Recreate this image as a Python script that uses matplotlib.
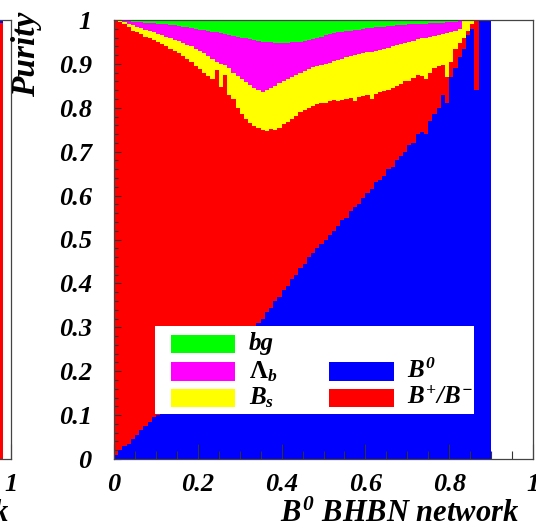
import numpy as np
import matplotlib
matplotlib.use("Agg")
import matplotlib.pyplot as plt
from matplotlib.patches import Rectangle

# purity vs. B0 BHBN network output, 0.01 wide bins from 0 to 0.9
# cumulative purity levels, stacked from the bottom: B0, B+/B-, Bs, Lambda_b (bg fills up to 1)
b0_top = [0.01, 0.02, 0.03, 0.035, 0.045, 0.055, 0.065, 0.075, 0.085, 0.095,
          0.10, 0.11, 0.12, 0.125, 0.135, 0.145, 0.15, 0.16, 0.17, 0.175,
          0.185, 0.19, 0.20, 0.21, 0.22, 0.225, 0.235, 0.24, 0.25, 0.26,
          0.265, 0.275, 0.285, 0.30, 0.31, 0.32, 0.335, 0.345, 0.36, 0.37,
          0.385, 0.395, 0.41, 0.42, 0.435, 0.445, 0.46, 0.47, 0.48, 0.49,
          0.50, 0.51, 0.52, 0.53, 0.545, 0.55, 0.565, 0.575, 0.58, 0.595,
          0.605, 0.615, 0.63, 0.635, 0.645, 0.66, 0.665, 0.68, 0.69, 0.70,
          0.715, 0.72, 0.74, 0.745, 0.74, 0.77, 0.785, 0.80, 0.83, 0.81,
          0.87, 0.89, 0.915, 0.935, 0.965, 0.98, 0.84, 1.0, 1.0, 1.0]
bpm_top = [1.0, 0.995, 0.99, 0.985, 0.975, 0.972, 0.968, 0.962, 0.958, 0.955,
           0.95, 0.945, 0.94, 0.935, 0.93, 0.925, 0.918, 0.912, 0.905, 0.895,
           0.888, 0.88, 0.872, 0.865, 0.885, 0.848, 0.875, 0.83, 0.82, 0.80,
           0.785, 0.775, 0.765, 0.758, 0.755, 0.75, 0.748, 0.752, 0.75, 0.755,
           0.762, 0.768, 0.775, 0.782, 0.79, 0.795, 0.80, 0.805, 0.808, 0.81,
           0.812, 0.815, 0.818, 0.815, 0.818, 0.82, 0.822, 0.815, 0.825, 0.828,
           0.83, 0.82, 0.832, 0.835, 0.838, 0.84, 0.845, 0.85, 0.855, 0.86,
           0.862, 0.868, 0.875, 0.872, 0.865, 0.88, 0.89, 0.895, 0.898, 0.87,
           0.905, 0.935, 0.948, 0.96, 0.975, 0.99, 1.0, 1.0, 1.0, 1.0]
bs_top = [1.0, 0.998, 0.995, 0.99, 0.988, 0.985, 0.982, 0.978, 0.975, 0.972,
          0.968, 0.965, 0.962, 0.958, 0.955, 0.952, 0.948, 0.944, 0.94, 0.935,
          0.93, 0.925, 0.918, 0.912, 0.905, 0.90, 0.898, 0.89, 0.88, 0.872,
          0.865, 0.858, 0.852, 0.846, 0.84, 0.836, 0.84, 0.845, 0.85, 0.856,
          0.86, 0.865, 0.87, 0.875, 0.88, 0.884, 0.888, 0.892, 0.895, 0.898,
          0.90, 0.903, 0.906, 0.91, 0.912, 0.915, 0.918, 0.92, 0.922, 0.925,
          0.927, 0.928, 0.93, 0.932, 0.934, 0.937, 0.94, 0.943, 0.946, 0.948,
          0.95, 0.953, 0.956, 0.958, 0.96, 0.962, 0.964, 0.966, 0.968, 0.97,
          0.972, 0.975, 0.98, 1.0, 1.0, 1.0, 1.0, 1.0, 1.0, 1.0]
lb_top = [1.0, 1.0, 0.998, 0.997, 0.996, 0.995, 0.995, 0.994, 0.993, 0.993,
          0.992, 0.991, 0.99, 0.989, 0.988, 0.987, 0.985, 0.984, 0.982, 0.98,
          0.978, 0.977, 0.975, 0.973, 0.972, 0.97, 0.968, 0.966, 0.964, 0.962,
          0.96, 0.958, 0.956, 0.954, 0.952, 0.95, 0.95, 0.949, 0.948, 0.948,
          0.948, 0.948, 0.949, 0.95, 0.95, 0.952, 0.954, 0.956, 0.958, 0.962,
          0.965, 0.967, 0.97, 0.972, 0.973, 0.975, 0.976, 0.977, 0.978, 0.98,
          0.981, 0.982, 0.983, 0.984, 0.985, 0.986, 0.987, 0.988, 0.989, 0.989,
          0.99, 0.99, 0.991, 0.992, 0.992, 0.993, 0.993, 0.994, 0.994, 0.995,
          0.995, 0.996, 0.997, 1.0, 1.0, 1.0, 1.0, 1.0, 1.0, 1.0]
bin_edges = np.round(np.arange(91) * 0.01, 2)

# tail end of the neighbouring B+/B- network panel
left_edges = [0.95, 0.96, 0.97, 0.98]
left_bpm_top = [0.993, 0.992, 0.993]

x_ticks = [0, 0.2, 0.4, 0.6, 0.8, 1]
x_ticklabels = ["0", "0.2", "0.4", "0.6", "0.8", "1"]
y_ticks = [0, 0.1, 0.2, 0.3, 0.4, 0.5, 0.6, 0.7, 0.8, 0.9, 1]
y_ticklabels = ["0", "0.1", "0.2", "0.3", "0.4", "0.5", "0.6", "0.7", "0.8", "0.9", "1"]

colors = {"bg": "#00ff00", "lb": "#ff00ff", "bs": "#ffff00", "b0": "#0000ff", "bpm": "#ff0000"}

plt.rcParams["font.family"] = ["Liberation Serif", "DejaVu Serif"]
plt.rcParams["font.weight"] = "bold"
plt.rcParams["font.style"] = "italic"
plt.rcParams["mathtext.fontset"] = "custom"
plt.rcParams["mathtext.it"] = "Liberation Serif:bold:italic"
plt.rcParams["mathtext.rm"] = "Liberation Serif:bold:italic"
plt.rcParams["mathtext.bf"] = "Liberation Serif:bold:italic"

W, H = 536, 527
fig = plt.figure(figsize=(W / 100, H / 100), dpi=100)
fig.patch.set_facecolor("white")

ax_l, ax_r, ax_b, ax_t = 114, 533, 459, 20
pos = [ax_l / W, 1 - ax_b / H, (ax_r - ax_l) / W, (ax_b - ax_t) / H]
ax = fig.add_axes(pos)


def style_axes(a):
    a.set_xlim(0, 1)
    a.set_ylim(0, 1)
    a.set_xticks(x_ticks)
    a.set_xticklabels(x_ticklabels)
    a.set_yticks(y_ticks)
    a.set_yticklabels(y_ticklabels)
    a.set_xticks(np.round(np.arange(21) * 0.05, 2), minor=True)
    a.set_yticks(np.round(np.arange(51) * 0.02, 2), minor=True)
    a.tick_params(axis="x", which="major", direction="in", length=11, width=0.8,
                  color="#333333", labelsize=19, pad=10, top=False)
    a.tick_params(axis="x", which="minor", direction="in", length=6, width=0.8,
                  color="#333333", top=False)
    a.tick_params(axis="y", which="major", direction="in", length=5, width=0.8,
                  color="#333333", labelsize=19, pad=16, right=False)
    a.tick_params(axis="y", which="minor", direction="in", length=3, width=0.8,
                  color="#333333", right=False)
    for s in a.spines.values():
        s.set_linewidth(0.9)
        s.set_color("#444444")
        s.set_zorder(5)
    a.set_axisbelow(False)


style_axes(ax)

# stacked purity histogram
ax.stairs(b0_top, bin_edges, baseline=0, fill=True, color=colors["b0"], lw=0)
ax.stairs(bpm_top, bin_edges, baseline=b0_top, fill=True, color=colors["bpm"], lw=0)
ax.stairs(bs_top, bin_edges, baseline=bpm_top, fill=True, color=colors["bs"], lw=0)
ax.stairs(lb_top, bin_edges, baseline=bs_top, fill=True, color=colors["lb"], lw=0)
ax.stairs(np.ones(len(lb_top)), bin_edges, baseline=lb_top, fill=True, color=colors["bg"], lw=0)

# legend box
ax.add_patch(Rectangle((0.098, 0.103), 0.76, 0.2, transform=ax.transAxes,
                       facecolor="white", edgecolor="none", zorder=3))
rows = [0.262, 0.200, 0.139]
sw_h = 0.043
left_entries = [("bg", "bg", "italic"), ("lb", "Λ$_{b}$", "normal"), ("bs", "$B_{s}$", "italic")]
right_entries = [None, ("b0", "$B^{0}$", "italic"), ("bpm", "$B^{+}/B^{-}$", "italic")]
for y, ent in zip(rows, left_entries):
    ax.add_patch(Rectangle((0.136, y - sw_h / 2), 0.153, sw_h, transform=ax.transAxes,
                           facecolor=colors[ent[0]], edgecolor="none", zorder=4))
    ax.text(0.322, y, ent[1], transform=ax.transAxes, fontsize=18, style=ent[2],
            va="center", ha="left", zorder=4)
for y, ent in zip(rows, right_entries):
    if ent is None:
        continue
    ax.add_patch(Rectangle((0.514, y - sw_h / 2), 0.155, sw_h, transform=ax.transAxes,
                           facecolor=colors[ent[0]], edgecolor="none", zorder=4))
    ax.text(0.700, y, ent[1], transform=ax.transAxes, fontsize=18, style=ent[2],
            va="center", ha="left", zorder=4)

fig.text(27 / W, 1 - 12 / H, "Purity", rotation=90, ha="center", va="top", fontsize=24)
fig.text(519 / W, 1 - 514 / H, "$B^{0}$ BHBN network", ha="right", va="center", fontsize=22)

# neighbouring panel, mostly outside the canvas
ax2 = fig.add_axes([(11 - (ax_r - ax_l)) / W, pos[1], pos[2], pos[3]])
style_axes(ax2)
ax2.set_yticklabels([])
ax2.stairs(left_bpm_top, left_edges, baseline=0, fill=True, color=colors["bpm"], lw=0)
ax2.stairs(np.ones(len(left_bpm_top)), left_edges, baseline=left_bpm_top, fill=True,
           color=colors["b0"], lw=0)
fig.text(10 / W, 1 - 514 / H, "$B^{+}$ BHBN network", ha="right", va="center", fontsize=22)

fig.savefig("out.png", dpi=100, facecolor="white")
